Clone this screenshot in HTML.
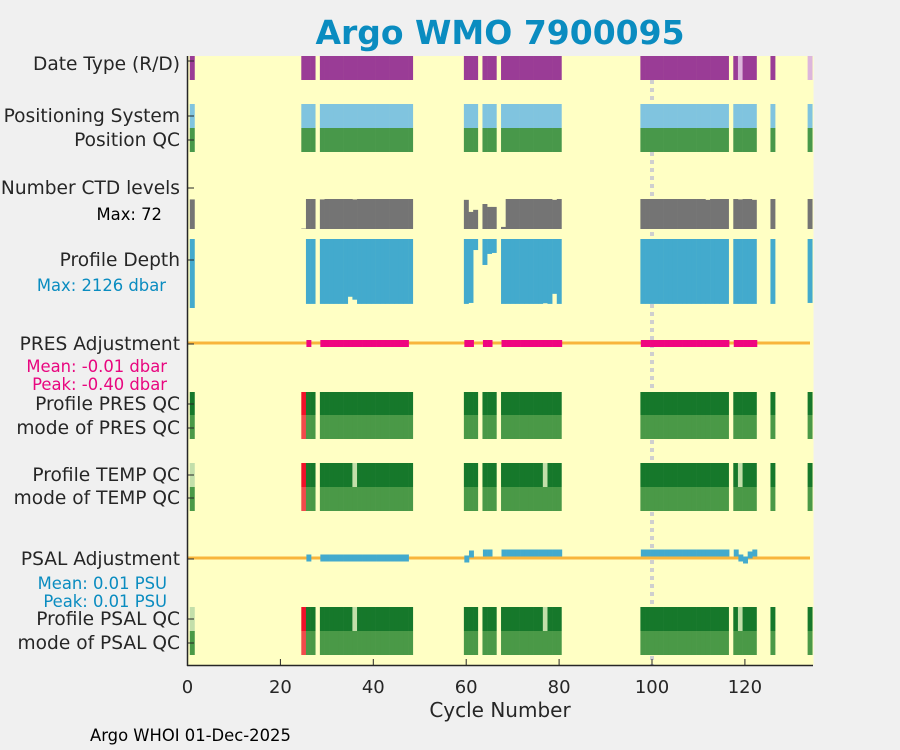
<!DOCTYPE html>
<html><head><meta charset="utf-8">
<style>
html,body{margin:0;padding:0;background:#f0f0f0;}
svg{display:block;font-family:"DejaVu Sans","Liberation Sans",sans-serif;}
</style></head>
<body>
<svg id="chart" width="900" height="750" viewBox="0 0 900 750">
<rect x="0" y="0" width="900" height="750" fill="#f0f0f0"/>
<text x="500" y="44" font-size="33" font-weight="bold" fill="#0a8cc0" text-anchor="middle">Argo WMO 7900095</text>
<rect x="187.5" y="56" width="626" height="609" fill="#ffffc4"/>
<g id="marks"></g>
<g id="labels" font-size="18.6" fill="#262626" text-anchor="end">
<text x="180" y="70">Date Type (R/D)</text>
<text x="180" y="122">Positioning System</text>
<text x="180" y="146">Position QC</text>
<text x="180" y="194">Number CTD levels</text>
<text x="162" y="220" font-size="16.4" fill="#000">Max: 72</text>
<text x="180" y="266">Profile Depth</text>
<text x="166" y="291" font-size="16.4" fill="#0a8cc0">Max: 2126 dbar</text>
<text x="180" y="350">PRES Adjustment</text>
<text x="167" y="372" font-size="16.4" fill="#e8067f">Mean: -0.01 dbar</text>
<text x="167" y="390" font-size="16.4" fill="#e8067f">Peak: -0.40 dbar</text>
<text x="180" y="410">Profile PRES QC</text>
<text x="180" y="434">mode of PRES QC</text>
<text x="180" y="481">Profile TEMP QC</text>
<text x="180" y="504">mode of TEMP QC</text>
<text x="180" y="565">PSAL Adjustment</text>
<text x="167" y="589" font-size="16.4" fill="#0a8cc0">Mean: 0.01 PSU</text>
<text x="167" y="607" font-size="16.4" fill="#0a8cc0">Peak: 0.01 PSU</text>
<text x="180" y="625">Profile PSAL QC</text>
<text x="180" y="649">mode of PSAL QC</text>
</g>
<g id="axes"></g>
<text x="500" y="717" font-size="20" fill="#262626" text-anchor="middle">Cycle Number</text>
<text x="90" y="741" font-size="16.4" fill="#000">Argo WHOI 01-Dec-2025</text>
</svg>
<script>
const cycles=[1,25,26,27,29,30,31,32,33,34,35,36,37,38,39,40,41,42,43,44,45,46,47,48,60,61,62,64,65,66,68,69,70,71,72,73,74,75,76,77,78,79,80,98,99,100,101,102,103,104,105,106,107,108,109,110,111,112,113,114,115,116,118,119,120,121,122,126,134];
const realtimeCycles=[119,134];
const ctdLevels=[71,1,72,72,71,72,72,72,72,72,72,71,72,72,72,72,72,72,72,72,72,72,72,72,70,41,46,60,53,53,5,72,72,72,72,72,72,72,72,72,72,70,72,72,72,72,72,72,72,72,72,72,72,72,72,72,72,70,72,72,72,72,72,71,72,72,70,72,72];
const depths=[2126,0,2000,2000,2000,2000,2000,2000,2000,2000,1780,1870,2000,2000,2000,2000,2000,2000,2000,2000,2000,2000,2000,2000,2000,1970,340,800,460,430,2000,2000,2000,2000,2000,2000,2000,2000,2000,1980,2000,1690,2000,2000,2000,2000,2000,2000,2000,2000,2000,2000,2000,2000,2000,2000,2000,2000,2000,2000,2000,2000,2000,2000,2000,2000,2000,2000,1970];
const presAdjCycles=[26,29,30,31,32,33,34,35,36,37,38,39,40,41,42,43,44,45,46,47,60,61,64,65,68,69,70,71,72,73,74,75,76,77,78,79,80,98,99,100,101,102,103,104,105,106,107,108,109,110,111,112,113,114,115,116,118,119,120,121,122];
const psalAdjCycles=[26,29,30,31,32,33,34,35,36,37,38,39,40,41,42,43,44,45,46,47,60,61,64,65,68,69,70,71,72,73,74,75,76,77,78,79,80,98,99,100,101,102,103,104,105,106,107,108,109,110,111,112,113,114,115,116,118,119,120,121,122];
const psalAdjValues=[0,0,0,0,0,0,0,0,0,0,0,0,0,0,0,0,0,0,0,0,-0.002,0.008,0.01,0.01,0.01,0.01,0.01,0.01,0.01,0.01,0.01,0.01,0.01,0.01,0.01,0.01,0.01,0.01,0.01,0.01,0.01,0.01,0.01,0.01,0.01,0.01,0.01,0.01,0.01,0.01,0.01,0.01,0.01,0.01,0.01,0.01,0.01,0,-0.004,0.006,0.01,0.01];
const presQcBad=[25];
const tempQcProbable=[1,36,77,119];
const psalQcProbable=[1,36,77,119];
const xTicks=[0,20,40,60,80,100,120];
const X0=187.5, XS=4.645;
const x=c=>X0+c*XS;
const NS='http://www.w3.org/2000/svg';
const marks=document.getElementById('marks');
const axes=document.getElementById('axes');
function mk(tag,attrs,parent){const e=document.createElementNS(NS,tag);for(const k in attrs)e.setAttribute(k,attrs[k]);parent.appendChild(e);return e;}
let ref=mk('line',{x1:x(100),x2:x(100),y1:56,y2:665,stroke:'#cfcfcf','stroke-width':4,'stroke-dasharray':'4 4'},marks);


function bar(c,y,h,fill,name,w){w=w||1;const r=mk('rect',{x:x(c-w/2),y:y,width:XS*w+0.3,height:h,fill:fill},marks);

return r;}
cycles.forEach((c,i)=>{
  bar(c,56,24,realtimeCycles.includes(c)?'#ddb6dc':'#9a3c96','date-type-bar');
  bar(c,104,24,'#80c4df','positioning-bar');
  bar(c,128,24,'#48984a','position-qc-bar');
  const hc=ctdLevels[i]/72*30;
  bar(c,229-hc,hc,'#747474','ctd-levels-bar');
  if(depths[i]>0){const hd=depths[i]/2126*69;bar(c,239,hd,'#43aacd','profile-depth-bar');}
  const bad=presQcBad.includes(c);
  bar(c,392,23,bad?'#f01029':'#16782b','pres-qc-bar');
  bar(c,415,24,bad?'#f24a4b':'#4a9947','pres-qc-mode-bar');
  bar(c,463,24,bad?'#f01029':(tempQcProbable.includes(c)?'#c3dfaa':'#16782b'),'temp-qc-bar');
  bar(c,487,24,bad?'#f24a4b':'#4a9947','temp-qc-mode-bar');
  bar(c,607,24,bad?'#f01029':(psalQcProbable.includes(c)?'#c3dfaa':'#16782b'),'psal-qc-bar');
  bar(c,631,24,bad?'#f24a4b':'#4a9947','psal-qc-mode-bar');
});
[[343,'pres-adjustment-zero-line'],[558,'psal-adjustment-zero-line']].forEach(([y,n])=>{
  const l=mk('line',{x1:187.5,x2:810,y1:y,y2:y,stroke:'#f8b53c','stroke-width':3},marks);
  
  
});
presAdjCycles.forEach(c=>{bar(c+0.1,340,7,'#ef0580','pres-adjustment-bar',1.0);});
psalAdjCycles.forEach((c,i)=>{const y=558-psalAdjValues[i]*500;bar(c+0.1,y-3.5,7,'#43aacd','psal-adjustment-bar',1.0);});
let ax=mk('line',{x1:187.5,x2:187.5,y1:56,y2:666,stroke:'#262626','stroke-width':1.5},axes);


let bx=mk('line',{x1:187,x2:813,y1:665.5,y2:665.5,stroke:'#262626','stroke-width':1.5},axes);


[61,116,140,188,260,344,404,428,475,498,559,619,643].forEach(y=>{
  const t=mk('line',{x1:187.5,x2:194,y1:y,y2:y,stroke:'#262626','stroke-width':1},axes);
  
  
});
xTicks.forEach(v=>{
  const t=mk('line',{x1:x(v),x2:x(v),y1:665,y2:659,stroke:'#262626','stroke-width':1},axes);
  
  
  const l=mk('text',{x:x(v),y:693,'font-size':18,fill:'#262626','text-anchor':'middle'},axes);
  l.textContent=v;
  
  
});
</script>
</body></html>
